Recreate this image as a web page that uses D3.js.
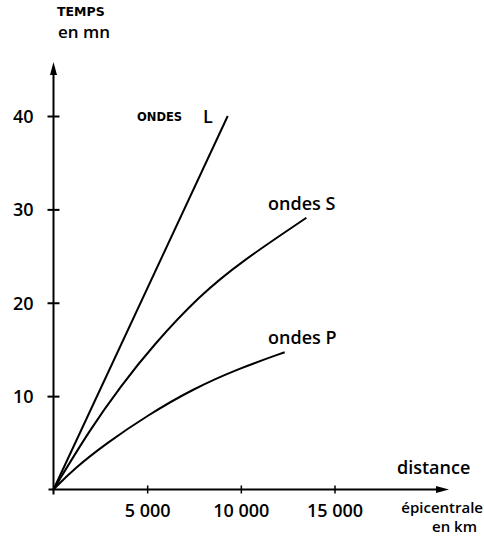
<!DOCTYPE html>
<html><head><meta charset="utf-8">
<script src="https://cdn.jsdelivr.net/npm/d3@7"></script>
<style>body{margin:0;background:#fff}svg{display:block}</style>
</head><body>
<svg id="c" width="484" height="538"></svg>
<script>
const xTicks = [5000, 10000, 15000];
const xTickLabels = ["5 000", "10 000", "15 000"];
const yTicks = [10, 20, 30, 40];
const yTickLabels = ["10", "20", "30", "40"];
const waveL = [[0,0],[9300,40.0]];
const waveS = [[0,0],[1970,6.5],[3560,11.0],[5340,15.5],[7820,20.8],[9950,24.3],[13500,29.1]];
const waveP = [[0,0],[1080,2.2],[2860,5.0],[4980,7.9],[7460,10.8],[9950,13.0],[12340,14.7]];

const svg = d3.select("#c");
const x = d3.scaleLinear().domain([0,15000]).range([53.5,334.5]);
const y = d3.scaleLinear().domain([0,40]).range([489.5,116]);

// axes lines with arrows
svg.append("line").attr("x1",x(0)-5).attr("x2",442).attr("y1",y(0)).attr("y2",y(0)).attr("stroke","#000").attr("stroke-width",2);
svg.append("path").attr("d",`M449,${y(0)} L436,${y(0)-3.5} L436,${y(0)+3.5}Z`).attr("fill","#000");
svg.append("line").attr("x1",x(0)).attr("x2",x(0)).attr("y1",y(0)+5).attr("y2",70).attr("stroke","#000").attr("stroke-width",2);
svg.append("path").attr("d",`M${x(0)},62 L${x(0)-3.5},75 L${x(0)+3.5},75Z`).attr("fill","#000");

// y axis
const ya = svg.append("g").attr("transform",`translate(${x(0)},0)`)
  .call(d3.axisLeft(y).tickValues(yTicks).tickFormat((d,i)=>yTickLabels[i]).tickSize(6).tickPadding(14));
ya.select(".domain").remove();
ya.selectAll(".tick line").attr("x1",-6).attr("x2",6).attr("stroke-width",2);
ya.selectAll(".tick text").style("font-size","18px").style("font-family","'Open Sans'").style("font-weight",600).attr("fill","#000").attr("dy","0.35em");

// x axis
const xa = svg.append("g").attr("transform",`translate(0,${y(0)})`)
  .call(d3.axisBottom(x).tickValues(xTicks).tickFormat((d,i)=>xTickLabels[i]).tickSize(4).tickPadding(11));
xa.select(".domain").remove();
xa.selectAll(".tick line").attr("y1",-4).attr("y2",4).attr("stroke-width",1.5);
xa.selectAll(".tick text").style("font-size","18px").style("font-family","'Open Sans'").style("font-weight",600).attr("fill","#000");

// curves
const smooth = d3.line().x(d=>x(d[0])).y(d=>y(d[1])).curve(d3.curveBasis);
const straight = d3.line().x(d=>x(d[0])).y(d=>y(d[1]));
svg.append("path").datum(waveL).attr("d",straight).attr("fill","none").attr("stroke","#000").attr("stroke-width",2);
[waveS,waveP].forEach(s=>{
  svg.append("path").datum(s).attr("d",smooth).attr("fill","none").attr("stroke","#000").attr("stroke-width",2);
});

// labels
const t = (tx,ty,str,size,weight,anchor,fam)=>svg.append("text").attr("x",tx).attr("y",ty)
  .style("font-size",size+"px").style("font-weight",weight||600).style("font-family",fam||"'Open Sans'")
  .attr("fill","#000").attr("text-anchor",anchor||"start").text(str);
t(57,16,"TEMPS",12.5,"bold","start","'DejaVu Sans'");
t(58,38,"en mn",17);
t(137,121,"ONDES",11.5,"bold","start","'DejaVu Sans'");
t(203,123,"L",18);
t(268,210,"ondes S",18);
t(268,344,"ondes P",18);
t(397,474,"distance",18);
t(483,513,"épicentrale",15,600,"end");
t(477,532,"en km",15,600,"end");
</script>
</body></html>
